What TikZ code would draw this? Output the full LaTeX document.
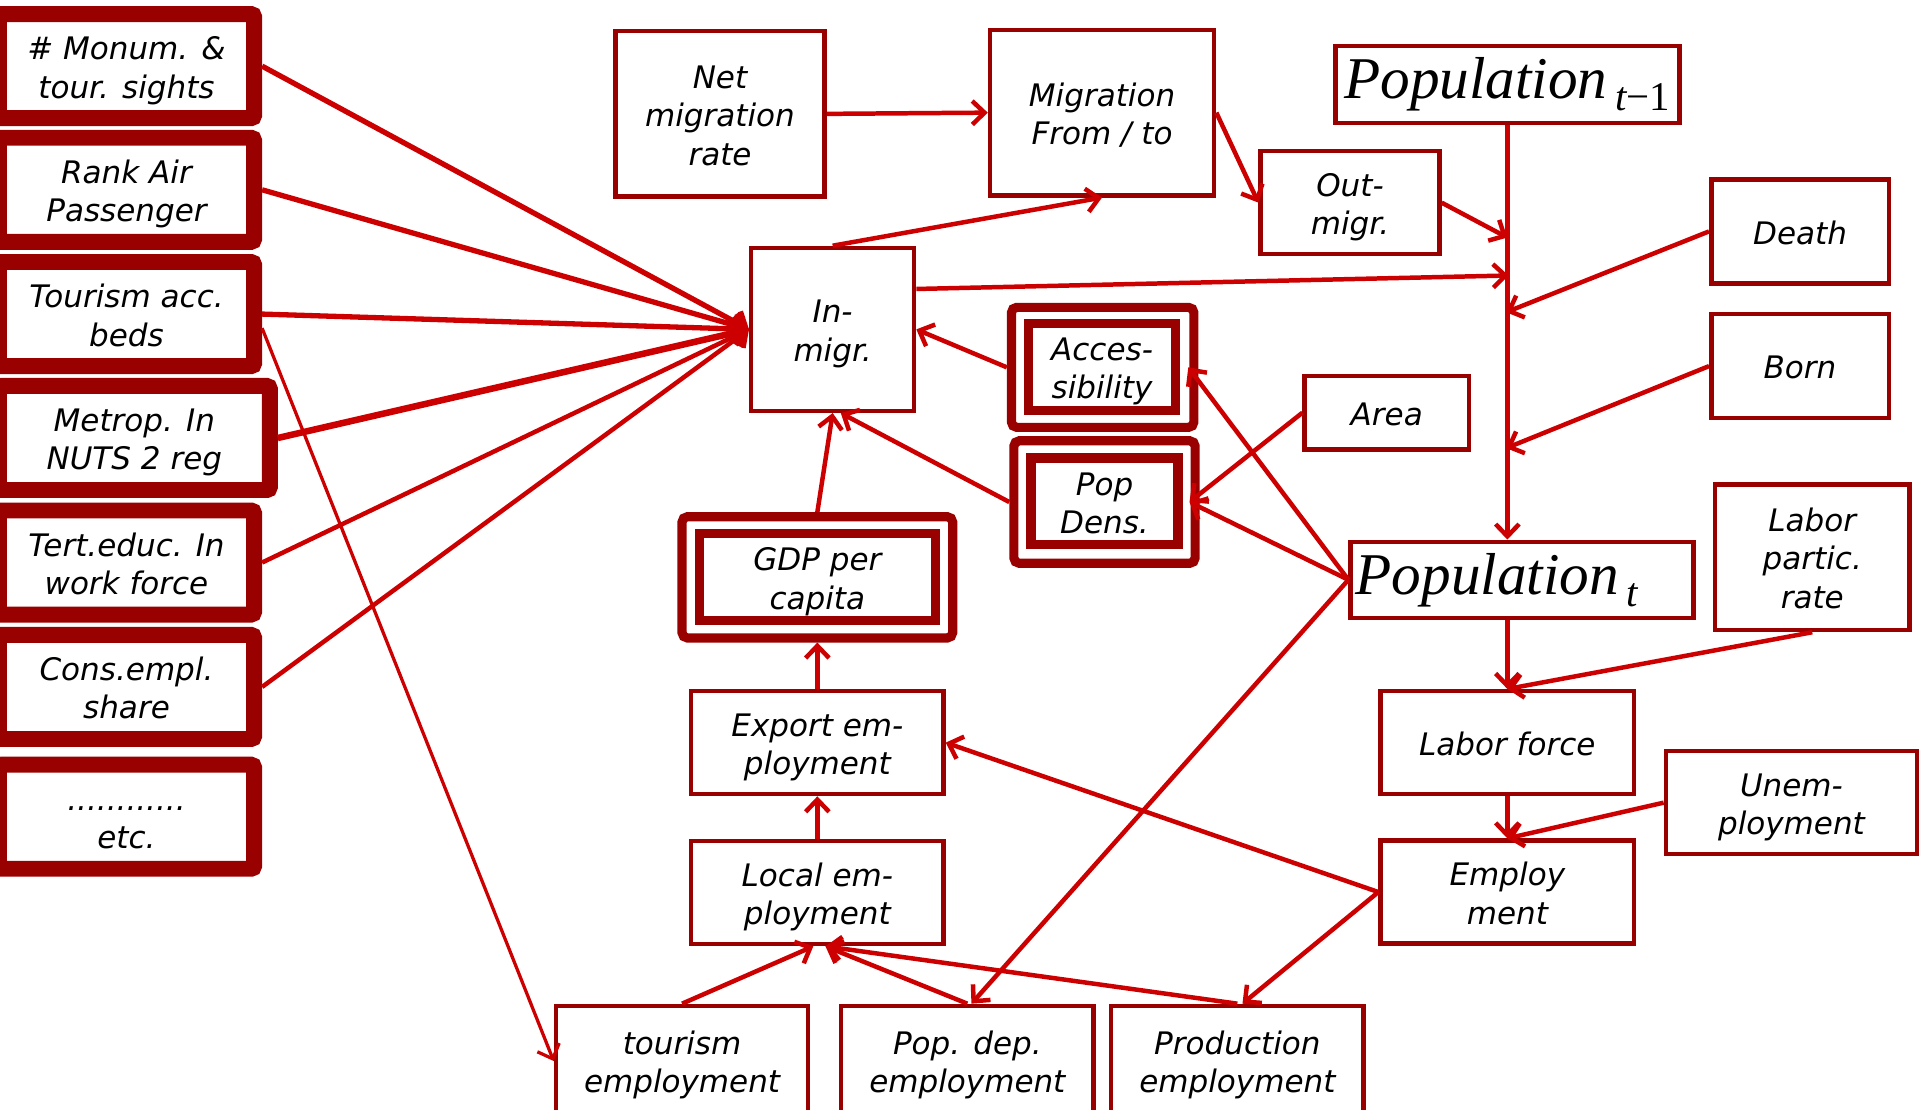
\documentclass[tikz,border=0pt]{standalone}
\usepackage{fontspec}
\setmainfont{DejaVu Sans}[ItalicFont={DejaVu Sans Oblique}]
\newfontfamily\popfamily{Liberation Serif}
\usetikzlibrary{arrows.meta}
\definecolor{bred}{RGB}{153,0,0}
\definecolor{ared}{RGB}{204,0,0}
\newcommand{\nf}{\fontsize{15.2}{18.8}\selectfont\itshape}
\newcommand{\ml}[1]{\vbox{\vskip5pt\hbox{\begin{tabular}{@{}c@{}}#1\end{tabular}}}}
\newcommand{\popfnt}{\popfamily\fontsize{29}{32}\selectfont\itshape}
\newcommand{\popsub}[1]{\hspace{4pt}\raisebox{-6pt}{\fontsize{20}{20}\selectfont #1}}
\begin{document}
\begin{tikzpicture}[x=0.6pt,y=-0.6pt,
  sz/.style 2 args={minimum width=#1*0.6pt, minimum height=#2*0.6pt},
  box/.style={draw=bred, line width=2.2pt, fill=white, inner sep=0pt},
  tb/.style={box, font=\nf},
  lbox/.style={draw=bred, line width=7.8pt, rounded corners=1.5pt, fill=white, inner sep=0pt, font=\nf},
  dout/.style={draw=bred, line width=4.5pt, rounded corners=2.6pt, fill=white, inner sep=0pt},
  din/.style={draw=bred, line width=4.5pt, fill=white, inner sep=0pt, font=\nf},
  conn/.style={draw=ared, line width=2.2pt, -{Straight Barb[length=6pt,width=11.5pt]}},
  fat/.style={conn, line width=2.6pt}]
\useasboundingbox (0,0) rectangle (1568,906);

% left column
\node[lbox, sz={208.5}{85}] (mon) at (103.3,54) {\ml{\# Monum. \&\\tour. sights}};
\node[lbox, sz={208.5}{85}] (air) at (103.3,155) {\ml{Rank Air\\Passenger}};
\node[lbox, sz={208.5}{85}] (beds) at (103.3,256.5) {\ml{Tourism acc.\\beds}};
\node[lbox, sz={221.3}{85}] (met) at (109.7,357.7) {\ml{Metrop. In\\NUTS 2 reg}};
\node[lbox, sz={208.5}{85}] (tert) at (103.3,459.4) {\ml{Tert.educ. In\\work force}};
\node[lbox, sz={208.5}{85}] (cons) at (103.3,561) {\ml{Cons.empl.\\share}};
\node[lbox, sz={208.5}{85}] (etc) at (103.3,667) {\ml{............\\etc.}};

% thin boxes
\node[tb, sz={171}{135}] (net) at (588,93) {\ml{Net\\migration\\rate}};
\node[tb, sz={183}{135}] (mig) at (900,92) {\ml{Migration\\From / to}};
\node[tb, sz={133}{133}] (inm) at (680,269) {\ml{In-\\migr.}};
\node[box, sz={281}{63}, font=\popfnt] (pop1) at (1231,69) {Population\popsub{t\upshape −1}};
\node[tb, sz={146}{84}] (outm) at (1102.5,165.5) {\ml{Out-\\migr.}};
\node[tb, sz={145}{85}] (death) at (1470,189) {\ml{Death}};
\node[tb, sz={145}{85}] (born) at (1470,299) {\ml{Born}};
\node[tb, sz={134}{60}] (area) at (1132.5,337) {\ml{Area}};
\node[box, minimum height=37.2pt, inner xsep=2.5pt, text width=163pt, align=left, font=\popfnt] (popt) at (1243,473.5) {Population\popsub{t}};
\node[tb, sz={159}{119}] (lpart) at (1480,455) {\ml{Labor\\partic.\\rate}};
\node[tb, sz={207}{84}] (lforce) at (1231,606.5) {\ml{Labor force}};
\node[tb, sz={205}{84}] (unemp) at (1463,655.5) {\ml{Unem-\\ployment}};
\node[tb, sz={207}{84}] (employ) at (1231,728.5) {\ml{Employ\\ment}};
\node[tb, sz={206}{84}] (export) at (667.5,606.5) {\ml{Export em-\\ployment}};
\node[tb, sz={206}{84}] (local) at (667.5,729) {\ml{Local em-\\ployment}};
\node[tb, sz={206}{90}] (tour) at (557,866.5) {\ml{tourism\\employment}};
\node[tb, sz={206}{90}] (popdep) at (790,866.5) {\ml{Pop. dep.\\employment}};
\node[tb, sz={206}{90}] (prod) at (1010.5,866.5) {\ml{Production\\employment}};

% double boxes
\node[dout, sz={149}{98}] (acco) at (900.5,300) {};
\node[din, sz={120}{71}] (acc) at (900,299.5) {\ml{Acces-\\sibility}};
\node[dout, sz={148}{100}] (pdo) at (902,410) {};
\node[din, sz={120}{71}] (pd) at (902,409.5) {\ml{Pop\\Dens.}};
\node[dout, sz={221}{99}] (gdpo) at (667.5,471.5) {};
\node[din, sz={193}{71}] (gdp) at (667.5,471.5) {\ml{GDP per\\capita}};

% points on the population flow
\coordinate (v1) at (1231,194);
\coordinate (v2) at (1232,225);
\coordinate (v3) at (1230,255);
\coordinate (v4) at (1230,366);

% connectors
\draw[fat] (mon.east) -- (inm.west);
\draw[fat] (air.east) -- (inm.west);
\draw[fat] (beds.east) -- (inm.west);
\draw[fat, line width=3.2pt] (met.east) -- (inm.west);
\draw[conn] (tert.east) -- (inm.west);
\draw[conn] (cons.east) -- (inm.west);
\draw[conn, line width=1.6pt] ([yshift=-6.9pt]beds.east) -- (tour.west);

\draw[conn] (net.east) -- (mig.west);
\draw[conn] (inm.north) -- (mig.south);
\draw[conn] (mig.east) -- (outm.west);
\draw[conn] (outm.east) -- (v1);
\draw[conn] ([yshift=19.8pt]inm.east) -- (v2);
\draw[conn] (pop1.south) -- (pop1.south |- popt.north);
\draw[conn] (death.west) -- (v3);
\draw[conn] (born.west) -- (v4);

\draw[conn] (acco.west) -- (inm.east);
\draw[conn] (pdo.west) -- ([xshift=4pt]inm.south);
\draw[conn] (gdpo.north) -- (inm.south);
\draw[conn] (area.west) -- ([xshift=-5pt]pdo.east);
\draw[conn] (popt.west) -- ([xshift=-5pt]pdo.east);
\draw[conn] (popt.west) -- ([xshift=-5pt]acco.east);
\draw[conn] (popt.west) -- ([xshift=2pt]popdep.north);

\draw[conn] (popt.south -| lforce.north) -- (lforce.north);
\draw[conn] (lpart.south) -- (lforce.north);
\draw[conn] (lforce.south) -- (employ.north);
\draw[conn] (unemp.west) -- (employ.north);
\draw[conn] (employ.west) -- (export.east);
\draw[conn] (employ.west) -- ([xshift=2.5pt]prod.north);

\draw[conn] (local.north) -- (export.south);
\draw[conn] (export.north) -- (gdpo.south);
\draw[conn] (tour.north) -- ([xshift=-2pt]local.south);
\draw[conn] (popdep.north) -- ([xshift=4pt]local.south);
\draw[conn] (prod.north) -- ([xshift=4pt]local.south);
\end{tikzpicture}
\end{document}
